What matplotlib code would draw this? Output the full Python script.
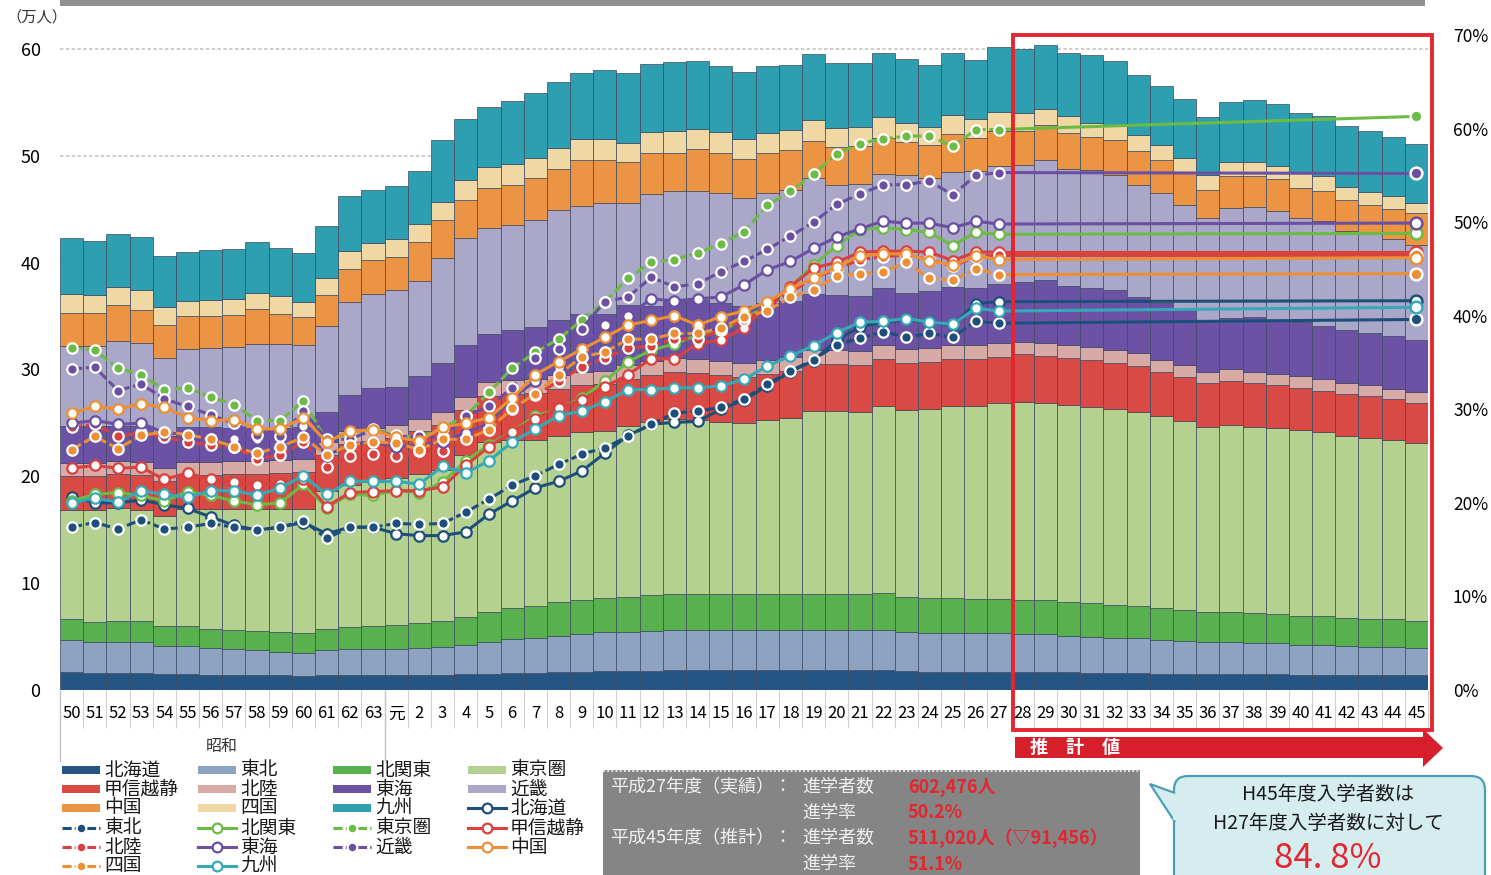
import numpy as np
import matplotlib
matplotlib.use("Agg")
import matplotlib.pyplot as plt
from matplotlib.patches import Rectangle, Polygon, FancyBboxPatch
from matplotlib.lines import Line2D

plt.rcParams["font.family"] = ["Noto Sans CJK JP", "DejaVu Sans"]

W, H = 1491, 875

# 年度（昭和50〜63、平成元〜45）
years = ["50", "51", "52", "53", "54", "55", "56", "57", "58", "59", "60", "61", "62", "63",
         "元", "2", "3", "4", "5", "6", "7", "8", "9", "10", "11", "12", "13", "14", "15",
         "16", "17", "18", "19", "20", "21", "22", "23", "24", "25", "26", "27",
         "28", "29", "30", "31", "32", "33", "34", "35", "36", "37", "38", "39", "40",
         "41", "42", "43", "44", "45"]

# 入学者数（万人）地域別
hokkaido = [1.7, 1.6, 1.6, 1.6, 1.5, 1.5, 1.4, 1.4, 1.4, 1.4, 1.3, 1.4, 1.4, 1.4,
            1.4, 1.4, 1.4, 1.5, 1.5, 1.6, 1.6, 1.7, 1.7, 1.8, 1.8, 1.8,
            1.9, 1.9, 1.9, 1.9, 1.9, 1.9, 1.9, 1.9, 1.9, 1.9, 1.8, 1.7, 1.7, 1.7, 1.7,
            1.7, 1.7, 1.7, 1.6, 1.6, 1.6, 1.5, 1.5, 1.5, 1.5, 1.5, 1.5, 1.4, 1.4, 1.4, 1.4, 1.4, 1.4]
tohoku = [3.0, 2.9, 2.9, 2.9, 2.6, 2.6, 2.5, 2.4, 2.3, 2.2, 2.2, 2.3, 2.4, 2.4,
          2.4, 2.5, 2.6, 2.7, 3.0, 3.2, 3.3, 3.4, 3.5, 3.6, 3.6, 3.7,
          3.7, 3.7, 3.7, 3.7, 3.7, 3.7, 3.7, 3.7, 3.7, 3.7, 3.6, 3.6, 3.6, 3.6, 3.6,
          3.5, 3.5, 3.4, 3.4, 3.3, 3.3, 3.2, 3.1, 3.0, 3.0, 2.9, 2.9, 2.8, 2.8, 2.7, 2.6, 2.6, 2.5]
kitakanto = [1.9, 1.9, 2.0, 2.0, 1.9, 1.9, 1.8, 1.8, 1.8, 1.8, 1.8, 2.0, 2.1, 2.2,
             2.3, 2.4, 2.5, 2.6, 2.8, 2.9, 3.0, 3.1, 3.2, 3.2, 3.3, 3.4,
             3.4, 3.4, 3.4, 3.4, 3.4, 3.4, 3.4, 3.4, 3.4, 3.5, 3.3, 3.3, 3.3, 3.2, 3.2,
             3.2, 3.2, 3.1, 3.1, 3.1, 3.0, 3.0, 2.9, 2.8, 2.8, 2.8, 2.7, 2.7, 2.7, 2.6, 2.6, 2.6, 2.6]
tokyoken = [10.2, 10.4, 10.5, 10.3, 10.3, 10.9, 11.2, 11.3, 11.4, 11.5, 11.6, 12.9, 13.3, 13.5,
            13.7, 13.9, 14.1, 15.2, 15.9, 15.7, 15.5, 15.6, 15.7, 15.6, 16.0, 16.2,
            16.4, 16.3, 16.1, 16.0, 16.3, 16.5, 17.1, 17.1, 17.0, 17.5, 17.5, 17.7, 18.0, 18.1, 18.4,
            18.6, 18.5, 18.5, 18.4, 18.3, 18.1, 17.9, 17.7, 17.3, 17.5, 17.4, 17.4, 17.4, 17.2, 17.1, 17.0, 16.8, 16.6]
koshinetsu = [3.2, 3.2, 3.2, 3.3, 3.3, 3.2, 3.2, 3.3, 3.3, 3.4, 3.5, 3.4, 3.8, 3.8,
              3.8, 4.0, 4.2, 4.2, 4.3, 4.3, 4.4, 4.4, 4.4, 4.4, 4.4, 4.4,
              4.4, 4.4, 4.4, 4.3, 4.3, 4.4, 4.4, 4.4, 4.4, 4.4, 4.4, 4.4, 4.4, 4.4, 4.3,
              4.4, 4.4, 4.4, 4.4, 4.3, 4.3, 4.2, 4.1, 4.1, 4.1, 4.1, 4.0, 4.0, 3.9, 3.9, 3.9, 3.8, 3.8]
hokuriku = [1.2, 1.2, 1.2, 1.2, 1.2, 1.2, 1.2, 1.2, 1.2, 1.2, 1.2, 1.2, 1.2, 1.2,
            1.2, 1.2, 1.2, 1.2, 1.3, 1.3, 1.3, 1.3, 1.3, 1.3, 1.3, 1.3,
            1.3, 1.3, 1.3, 1.3, 1.3, 1.3, 1.3, 1.3, 1.3, 1.3, 1.3, 1.3, 1.3, 1.3, 1.3,
            1.2, 1.2, 1.2, 1.2, 1.2, 1.2, 1.1, 1.1, 1.1, 1.1, 1.1, 1.1, 1.1, 1.1, 1.0, 1.0, 1.0, 1.0]
tokai = [3.5, 3.5, 3.3, 3.4, 3.0, 3.3, 3.3, 3.1, 3.1, 3.0, 3.0, 2.8, 3.4, 3.8,
         3.6, 4.0, 4.6, 4.9, 4.5, 4.7, 4.9, 5.1, 5.4, 5.3, 5.6, 5.1,
         5.3, 5.5, 5.4, 5.3, 5.3, 5.2, 5.3, 5.2, 5.2, 5.3, 5.3, 5.3, 5.4, 5.3, 5.5,
         5.6, 5.9, 5.5, 5.5, 5.6, 5.3, 5.3, 5.2, 4.8, 4.8, 5.1, 5.0, 5.0, 5.0, 5.0, 4.9, 4.9, 4.9]
kinki = [7.5, 7.5, 8.0, 7.8, 7.3, 7.3, 7.4, 7.6, 7.9, 7.9, 7.7, 8.1, 8.7, 8.8,
         9.0, 8.9, 9.8, 10.0, 9.9, 9.8, 10.0, 10.3, 10.1, 10.4, 9.6, 10.5,
         10.3, 10.2, 10.3, 10.1, 10.3, 10.4, 10.8, 10.3, 10.5, 10.7, 11.0, 10.6, 10.8, 11.0, 11.0,
         10.9, 11.2, 11.0, 11.1, 10.8, 10.5, 10.3, 9.8, 9.6, 10.3, 10.3, 10.2, 9.8, 9.8, 9.3, 9.3, 9.1, 8.8]
chugoku = [3.1, 3.1, 3.3, 3.1, 3.1, 3.1, 3.0, 3.0, 3.3, 2.8, 2.6, 2.9, 3.1, 3.1,
           3.1, 3.6, 3.6, 3.6, 3.8, 3.8, 3.9, 3.9, 4.3, 4.0, 3.8, 3.9,
           3.6, 3.9, 3.8, 3.7, 3.8, 3.7, 3.5, 3.5, 3.5, 3.4, 3.1, 3.1, 3.5, 3.1, 3.3,
           3.2, 3.3, 3.3, 3.1, 3.3, 3.1, 3.1, 3.0, 2.6, 3.0, 2.9, 3.0, 2.8, 2.8, 2.9, 2.7, 2.8, 3.0]
shikoku = [1.8, 1.7, 1.7, 1.8, 1.6, 1.4, 1.5, 1.5, 1.5, 1.7, 1.4, 1.6, 1.7, 1.6,
           1.7, 1.7, 1.7, 1.8, 1.9, 1.9, 1.9, 1.9, 2.0, 2.0, 1.8, 1.9,
           2.0, 1.9, 1.9, 1.9, 1.8, 1.9, 1.9, 1.8, 1.8, 1.9, 1.8, 1.7, 1.8, 1.7, 1.8,
           1.7, 1.5, 1.6, 1.3, 1.4, 1.5, 1.4, 1.4, 1.4, 1.3, 1.3, 1.2, 1.4, 1.4, 1.2, 1.2, 1.2, 1.0]
kyushu = [5.2, 5.0, 5.0, 5.0, 4.8, 4.6, 4.7, 4.7, 4.7, 4.5, 4.6, 4.8, 5.1, 5.0,
          5.0, 5.0, 5.8, 5.7, 5.7, 5.9, 6.1, 6.2, 6.1, 6.4, 6.5, 6.4,
          6.5, 6.4, 6.2, 6.2, 6.3, 6.1, 6.2, 6.1, 6.0, 6.0, 6.0, 5.8, 5.8, 5.6, 6.1,
          6.0, 6.0, 5.9, 6.3, 6.0, 5.7, 5.5, 5.5, 5.4, 5.6, 5.8, 5.8, 5.6, 5.6, 5.7, 5.7, 5.6, 5.5]

# 進学率（%）昭和50〜平成27
rate_hokkaido = [20.6, 20.0, 20.0, 20.3, 19.8, 19.4, 18.5, 17.6, 17.1, 17.4, 17.9, 16.7, 17.4, 17.4,
                 16.7, 16.5, 16.5, 16.9, 18.8, 20.2, 21.6, 22.3, 23.4, 25.3, 27.2, 28.4, 28.6, 28.7,
                 30.0, 31.0, 32.5, 34.0, 35.2, 37.4, 38.8, 39.3, 39.6, 39.3, 39.0, 41.3, 41.5]
rate_tohoku = [17.4, 17.9, 17.2, 18.2, 17.2, 17.4, 17.8, 17.4, 17.1, 17.4, 18.1, 16.2, 17.4, 17.4,
               17.8, 17.7, 17.8, 19.0, 20.4, 21.9, 22.9, 24.1, 25.2, 25.9, 27.1, 28.4, 29.6, 29.8,
               30.2, 31.1, 32.7, 34.1, 35.3, 36.9, 37.6, 38.3, 37.7, 38.1, 37.7, 39.4, 39.2]
rate_kitakanto = [20.2, 20.9, 21.1, 20.8, 20.2, 21.2, 20.8, 20.2, 19.8, 20.0, 22.0, 19.5, 20.9, 20.8,
                  21.3, 21.1, 22.2, 24.5, 26.2, 27.6, 29.3, 30.0, 31.2, 33.0, 35.1, 36.3, 37.0, 37.9,
                  38.3, 39.7, 41.0, 43.1, 45.4, 47.5, 49.2, 49.4, 49.2, 48.9, 47.5, 48.9, 48.7]
rate_tokyoken = [36.6, 36.3, 34.4, 33.7, 32.1, 32.3, 31.3, 30.5, 28.8, 28.8, 30.9, 26.6, 27.5, 27.9,
                 27.2, 27.0, 28.0, 29.3, 31.8, 34.4, 36.1, 37.5, 39.5, 41.5, 44.0, 45.7, 46.0, 46.7,
                 47.7, 49.0, 51.8, 53.3, 55.1, 57.3, 58.4, 58.9, 59.2, 59.2, 58.1, 59.9, 59.9]
rate_koshinetsu = [23.7, 24.0, 23.7, 23.8, 22.5, 23.2, 22.5, 22.2, 21.9, 22.0, 22.5, 19.6, 21.1, 21.2,
                   21.3, 21.3, 21.7, 24.0, 26.0, 27.6, 29.0, 30.1, 31.0, 32.4, 33.7, 35.4, 35.4, 37.0,
                   37.4, 38.7, 41.1, 43.1, 45.1, 45.7, 46.8, 46.9, 46.9, 46.8, 45.9, 46.8, 46.8]
rate_hokuriku = [28.1, 28.4, 27.1, 27.5, 27.0, 26.5, 26.2, 26.0, 24.7, 25.1, 26.5, 23.8, 25.0, 25.2,
                 25.0, 25.5, 25.5, 27.0, 28.0, 30.0, 31.5, 33.0, 34.5, 35.5, 36.5, 36.8, 37.5, 37.5,
                 38.5, 39.5, 41.0, 42.5, 44.0, 45.0, 46.0, 46.3, 46.5, 46.0, 45.3, 46.3, 46.5]
rate_tokai = [28.5, 28.8, 28.4, 28.5, 27.5, 27.3, 27.0, 26.8, 26.8, 26.9, 28.2, 25.0, 26.3, 26.5,
              26.0, 26.2, 26.5, 27.5, 28.5, 31.2, 33.0, 34.5, 36.5, 39.0, 40.0, 41.8, 41.6, 41.8,
              42.0, 43.3, 44.9, 45.8, 47.2, 48.4, 49.3, 50.1, 49.9, 49.9, 49.4, 50.1, 49.8]
rate_kinki = [34.3, 34.5, 32.0, 32.7, 31.1, 30.3, 29.4, 28.5, 27.3, 27.1, 29.8, 26.8, 26.8, 27.8,
              27.1, 27.1, 27.0, 29.3, 30.3, 32.3, 35.5, 36.4, 38.6, 41.5, 42.0, 44.1, 43.1, 43.4,
              44.7, 45.8, 47.1, 48.5, 50.0, 51.9, 53.0, 54.0, 54.0, 54.4, 52.9, 55.0, 55.3]
rate_chugoku = [29.6, 30.3, 30.0, 30.6, 30.2, 29.1, 28.8, 28.9, 27.9, 27.9, 29.1, 26.5, 27.7, 27.8,
                27.0, 26.6, 28.1, 28.5, 29.1, 31.2, 33.7, 35.1, 36.4, 37.7, 39.0, 39.5, 40.0, 39.0,
                39.9, 40.5, 41.5, 42.9, 44.0, 45.2, 46.4, 46.6, 46.6, 45.9, 45.4, 46.4, 46.0]
rate_shikoku = [25.7, 27.1, 25.8, 27.2, 27.6, 27.3, 26.8, 26.0, 25.3, 26.0, 27.0, 25.1, 26.2, 26.5,
                26.4, 25.7, 26.8, 26.8, 27.8, 30.1, 31.6, 33.7, 35.6, 36.1, 37.5, 37.5, 38.1, 38.1,
                38.7, 39.9, 40.5, 42.0, 42.8, 44.2, 44.5, 44.7, 45.7, 44.0, 43.8, 45.0, 44.4]
rate_kyushu = [20.0, 20.5, 20.1, 21.3, 20.9, 20.6, 21.3, 21.3, 20.8, 21.6, 22.9, 20.9, 22.3, 22.3,
               22.3, 22.0, 23.9, 23.2, 24.5, 26.5, 27.9, 29.3, 29.8, 30.8, 32.1, 32.1, 32.3, 32.3,
               32.5, 33.2, 34.6, 35.7, 36.8, 38.2, 39.3, 39.4, 39.7, 39.3, 39.1, 40.8, 40.5]

# 平成45年度 進学率（推計）
rate_h45 = [41.6, 39.6, 48.8, 61.3, 46.8, 46.5, 49.9, 55.2, 46.2, 44.5, 40.9]

regions = ["北海道", "東北", "北関東", "東京圏", "甲信越静", "北陸", "東海", "近畿", "中国", "四国", "九州"]
entrants = [hokkaido, tohoku, kitakanto, tokyoken, koshinetsu, hokuriku,
            tokai, kinki, chugoku, shikoku, kyushu]
rates = [rate_hokkaido, rate_tohoku, rate_kitakanto, rate_tokyoken, rate_koshinetsu,
         rate_hokuriku, rate_tokai, rate_kinki, rate_chugoku, rate_shikoku, rate_kyushu]

bar_colors = ["#255583", "#8ea2c2", "#58b04f", "#b4d18f", "#d94a45", "#d8aaa6",
              "#6b52a4", "#aba7c9", "#eb9444", "#efd8a3", "#2d9fb1"]
line_colors = ["#1e4f7b", "#1e4f7b", "#6cbb45", "#6cbb45", "#d8413f", "#d8413f",
               "#6a4fa3", "#6a4fa3", "#ec8f35", "#ec8f35", "#35a9b7"]
line_filled = [False, True, False, True, False, True, False, True, False, True, False]

summary = [("平成27年度（実績）：", "進学者数", "602,476人"),
           ("", "進学率", "50.2%"),
           ("平成45年度（推計）：", "進学者数", "511,020人（▽91,456）"),
           ("", "進学率", "51.1%")]

RED = "#e3262f"


def fx(px):
    return px / W


def fy(py):
    return 1 - py / H


def marker_style(color, filled):
    if filled:
        return dict(markerfacecolor=color, markeredgecolor="white")
    return dict(markerfacecolor="white", markeredgecolor=color)


fig = plt.figure(figsize=(W / 100, H / 100), dpi=100)
fig.patch.set_facecolor("white")

ax = fig.add_axes([fx(60), fy(690), fx(1428) - fx(60), fy(35) - fy(690)])
x = np.arange(len(years))
bottom = np.zeros(len(years))
for vals, col in zip(entrants, bar_colors):
    ax.bar(x, vals, bottom=bottom, width=1.0, color=col, edgecolor="#3e4860",
           linewidth=0.5, zorder=2)
    bottom += np.array(vals)

ax.set_xlim(-0.5, len(years) - 0.5)
ax.set_ylim(0, 61.3)
ax.set_yticks([0, 10, 20, 30, 40, 50, 60])
ax.tick_params(axis="y", length=0, pad=14, labelsize=13)
ax.set_xticks(x, labels=years)
ax.tick_params(axis="x", length=0, pad=11, labelsize=12)
ax.grid(axis="y", color="#c4c4c4", linestyle=(0, (2, 1.5)), linewidth=1.2, zorder=0)
ax.set_axisbelow(True)
for s in ax.spines.values():
    s.set_visible(False)

# 年度ラベルの区切り線
xt = ax.get_xaxis_transform()
ax.vlines(np.arange(len(years)) + 0.5, -0.058, 0, transform=xt, color="#cfcfcf",
          linewidth=0.8, clip_on=False)
ax.vlines([-0.5, 13.5], -0.11, 0, transform=xt, color="#c4c4c4", linewidth=1.0, clip_on=False)

ax2 = ax.twinx()
ax2.set_ylim(0, 70)
ax2.set_yticks([0, 10, 20, 30, 40, 50, 60, 70])
ax2.set_yticklabels([f"{v}%" for v in range(0, 80, 10)])
ax2.tick_params(axis="y", length=0, pad=18, labelsize=12.5)
for s in ax2.spines.values():
    s.set_visible(False)

n_hist = len(rate_hokkaido)
for vals, end, col, filled in zip(rates, rate_h45, line_colors, line_filled):
    ls = (0, (3.5, 1.2)) if filled else "-"
    ms = marker_style(col, filled)
    ax2.plot([n_hist - 1, len(years) - 1], [vals[-1], end], color=col, linewidth=2.2, zorder=3)
    ax2.plot(x[:n_hist], vals, color=col, linestyle=ls, linewidth=2.2, marker="o",
             markersize=7.5, markeredgewidth=1.6, zorder=4, **ms)
    ax2.plot([len(years) - 1], [end], linestyle="none", marker="o", markersize=8.5,
             markeredgewidth=1.8, zorder=4, **ms)

# 上端の帯
fig.add_artist(Rectangle((fx(60), fy(6)), fx(1425) - fx(60), 6 / H, color="#8f8f8f", lw=0))

fig.text(fx(6), fy(17), "（万人）", fontsize=11, va="center", ha="left", color="#333333")
fig.text(fx(222), fy(746), "昭和", fontsize=11.5, va="center", ha="center", color="#333333")

# 推計値の枠と矢印
fig.add_artist(Rectangle((fx(1013), fy(730)), fx(1432) - fx(1013), fy(35) - fy(730),
                         fill=False, edgecolor=RED, linewidth=2.8, zorder=10))
arrow = [(1015, 737), (1423, 737), (1423, 729), (1443, 748), (1423, 767), (1423, 758), (1015, 758)]
fig.add_artist(Polygon([(fx(a), fy(b)) for a, b in arrow], closed=True, color="#d71f2b", lw=0))
fig.text(fx(1030), fy(747), "推　計　値", fontsize=13, fontweight="bold", color="white",
         va="center", ha="left")

# 凡例
col_x = [62, 198, 333, 468]
row_y = [770, 789, 808, 828, 847, 866]
legend_items = [("bar", i) for i in range(11)] + [("line", i) for i in range(11)]
for k, (kind, i) in enumerate(legend_items):
    x0 = col_x[k % 4]
    y0 = row_y[k // 4]
    if kind == "bar":
        fig.add_artist(Rectangle((fx(x0), fy(y0 + 4)), 38 / W, 8 / H, color=bar_colors[i], lw=0))
    else:
        col = line_colors[i]
        ls = (0, (3, 1)) if line_filled[i] else "-"
        fig.add_artist(Line2D([fx(x0), fx(x0 + 38)], [fy(y0), fy(y0)], color=col,
                              linestyle=ls, linewidth=2.2))
        fig.add_artist(Line2D([fx(x0 + 19)], [fy(y0)], linestyle="none", marker="o",
                              markersize=7, markeredgewidth=1.6, **marker_style(col, line_filled[i])))
    fig.text(fx(x0 + 42), fy(y0), regions[i], fontsize=13.5, va="center", ha="left", color="#1a1a1a")

# 実績・推計の表
fig.add_artist(Rectangle((fx(603), fy(875)), fx(1140) - fx(603), fy(770) - fy(875),
                         facecolor="#858585", edgecolor="none"))
fig.add_artist(Line2D([fx(603), fx(1140)], [fy(771), fy(771)], color="#dddddd",
                      linestyle=(0, (1, 1)), linewidth=1.5))
for r, (lab, item, val) in enumerate(summary):
    yy = 787 + r * 25.7
    if lab:
        fig.text(fx(610), fy(yy), lab, fontsize=13, va="center", ha="left", color="#f0f0f0")
    fig.text(fx(802), fy(yy), item, fontsize=13, va="center", ha="left", color="#f0f0f0")
    fig.text(fx(908), fy(yy), val, fontsize=13, va="center", ha="left", color=RED,
             fontweight="bold")

# 吹き出し
dpi_tr = fig.dpi_scale_trans
bubble = FancyBboxPatch((1174 / 100, (H - 900) / 100), (1485 - 1174) / 100, (900 - 776) / 100,
                        boxstyle="round,pad=0,rounding_size=0.14", transform=dpi_tr,
                        facecolor="#d6edf0", edgecolor="#4b9fb5", linewidth=1.6)
fig.add_artist(bubble)
tail = [(1175, 793), (1150, 784), (1175, 822)]
fig.add_artist(Polygon([(a / 100, (H - b) / 100) for a, b in tail], closed=False,
                       transform=dpi_tr, facecolor="#d6edf0", edgecolor="#4b9fb5", linewidth=1.6))
fig.add_artist(Polygon([(a / 100, (H - b) / 100) for a, b in [(1173, 795), (1177, 795), (1177, 820), (1173, 820)]],
                       transform=dpi_tr, facecolor="#d6edf0", edgecolor="none"))
fig.text(fx(1328), fy(795), "H45年度入学者数は", fontsize=14, va="center", ha="center", color="#1a1a1a")
fig.text(fx(1328), fy(823), "H27年度入学者数に対して", fontsize=14, va="center", ha="center", color="#1a1a1a")
fig.text(fx(1328), fy(859), "84. 8%", fontsize=25, va="center", ha="center", color=RED)

fig.savefig("out.png", dpi=100)
